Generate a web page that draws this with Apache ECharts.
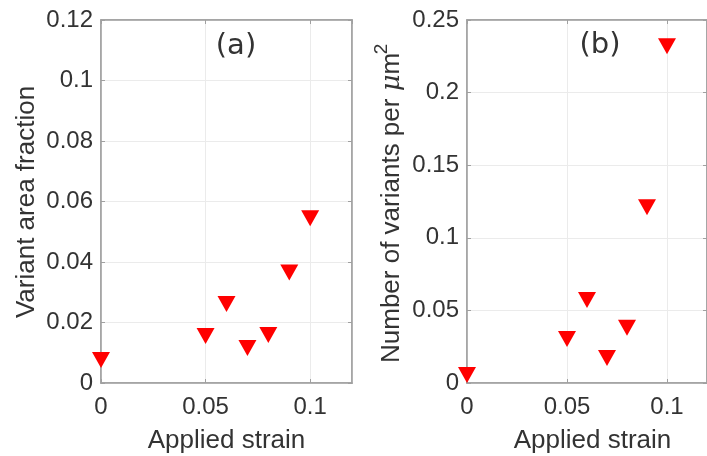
<!DOCTYPE html>
<html>
<head>
<meta charset="utf-8">
<script src="https://cdn.jsdelivr.net/npm/echarts@6/dist/echarts.min.js"></script>
<style>html,body{margin:0;padding:0;background:#fff;}#c{width:707px;height:456px;}</style>
</head>
<body>
<div id="c"></div>
<script>
// Data
var strain = [0, 0.05, 0.06, 0.07, 0.08, 0.09, 0.1];
var areaFraction = [0.0076, 0.0155, 0.0261, 0.0116, 0.0159, 0.0365, 0.0545];
var variantsPerUm2 = [0.0055, 0.0303, 0.0572, 0.0172, 0.038, 0.121, 0.232];
var panelLabels = ['(a)', '(b)'];
var xLabel = 'Applied strain';
var yLabelA = 'Variant area fraction';

var FONT = 'Liberation Sans';
var AXC = '#a0a0a0';
var TXT = '#333333';

function pairs(xs, ys) { return xs.map(function (x, i) { return [x, ys[i]]; }); }

function xAx(grid, pos, show) {
  return {
    type: 'value', gridIndex: grid, position: pos, min: 0, max: 0.12, interval: 0.05,
    axisLine: { show: true, onZero: false, lineStyle: { color: AXC, width: 1.5 } },
    axisTick: { show: true, inside: true, length: 4, lineStyle: { color: AXC } },
    axisLabel: { show: show, margin: 12, fontSize: 24, fontFamily: FONT, color: TXT, showMaxLabel: false },
    splitLine: { show: show, lineStyle: { color: '#ebebeb', width: 1 } }
  };
}
function yAx(grid, pos, show, max, interval) {
  return {
    type: 'value', gridIndex: grid, position: pos, min: 0, max: max, interval: interval,
    axisLine: { show: true, onZero: false, lineStyle: { color: AXC, width: 1.5 } },
    axisTick: { show: true, inside: true, length: 4, lineStyle: { color: AXC } },
    axisLabel: { show: show, margin: 8, fontSize: 24, fontFamily: FONT, color: TXT },
    splitLine: { show: show, lineStyle: { color: '#ebebeb', width: 1 } }
  };
}

var chart = echarts.init(document.getElementById('c'));
chart.setOption({
  animation: false,
  backgroundColor: '#ffffff',
  grid: [
    { left: 101, top: 20, width: 251, height: 363, show: true, borderColor: AXC, borderWidth: 1.5, backgroundColor: 'transparent' },
    { left: 467, top: 20, width: 251, height: 363, show: true, borderColor: AXC, borderWidth: 1.5, backgroundColor: 'transparent' }
  ],
  xAxis: [xAx(0, 'bottom', true), xAx(0, 'top', false), xAx(1, 'bottom', true), xAx(1, 'top', false)],
  yAxis: [yAx(0, 'left', true, 0.12, 0.02), yAx(0, 'right', false, 0.12, 0.02),
          yAx(1, 'left', true, 0.25, 0.05), yAx(1, 'right', false, 0.25, 0.05)],
  series: [
    { type: 'scatter', xAxisIndex: 0, yAxisIndex: 0, data: pairs(strain, areaFraction),
      symbol: 'triangle', symbolRotate: 180, symbolSize: [18, 16], itemStyle: { color: '#ff0000', opacity: 1 }, clip: false, z: 5 },
    { type: 'scatter', xAxisIndex: 2, yAxisIndex: 2, data: pairs(strain, variantsPerUm2),
      symbol: 'triangle', symbolRotate: 180, symbolSize: [18, 16], itemStyle: { color: '#ff0000', opacity: 1 }, clip: false, z: 5 }
  ],
  graphic: [
    { type: 'text', x: 236, y: 46, style: { text: panelLabels[0], x: 0, y: 0, align: 'center', verticalAlign: 'middle', font: '29px "DejaVu Sans"', fill: TXT } },
    { type: 'text', x: 600, y: 45, style: { text: panelLabels[1], x: 0, y: 0, align: 'center', verticalAlign: 'middle', font: '29px "DejaVu Sans"', fill: TXT } },
    { type: 'text', x: 226.5, y: 441, style: { text: xLabel, x: 0, y: 0, align: 'center', verticalAlign: 'middle', font: '26px "Liberation Sans"', fill: TXT } },
    { type: 'text', x: 592.5, y: 441, style: { text: xLabel, x: 0, y: 0, align: 'center', verticalAlign: 'middle', font: '26px "Liberation Sans"', fill: TXT } },
    { type: 'text', x: 27, y: 202, rotation: Math.PI / 2, style: { text: yLabelA, x: 0, y: 0, align: 'center', verticalAlign: 'middle', font: '26px "Liberation Sans"', fill: TXT } },
    { type: 'text', x: 392, y: 363, rotation: Math.PI / 2, style: {
        text: '{n|Number of variants per }{mu|μ}{n|m}', x: 0, y: 0, align: 'left', verticalAlign: 'middle',
        rich: {
          n: { fontSize: 26, fontFamily: FONT, fill: TXT, color: TXT },
          mu: { fontSize: 26, fontFamily: 'DejaVu Serif', fontStyle: 'italic', fill: TXT, color: TXT }
        } } },
    { type: 'text', x: 382, y: 49, rotation: Math.PI / 2, style: { text: '2', x: 0, y: 0, align: 'center', verticalAlign: 'middle', font: '19px "Liberation Sans"', fill: TXT } }
  ]
});
</script>
</body>
</html>
